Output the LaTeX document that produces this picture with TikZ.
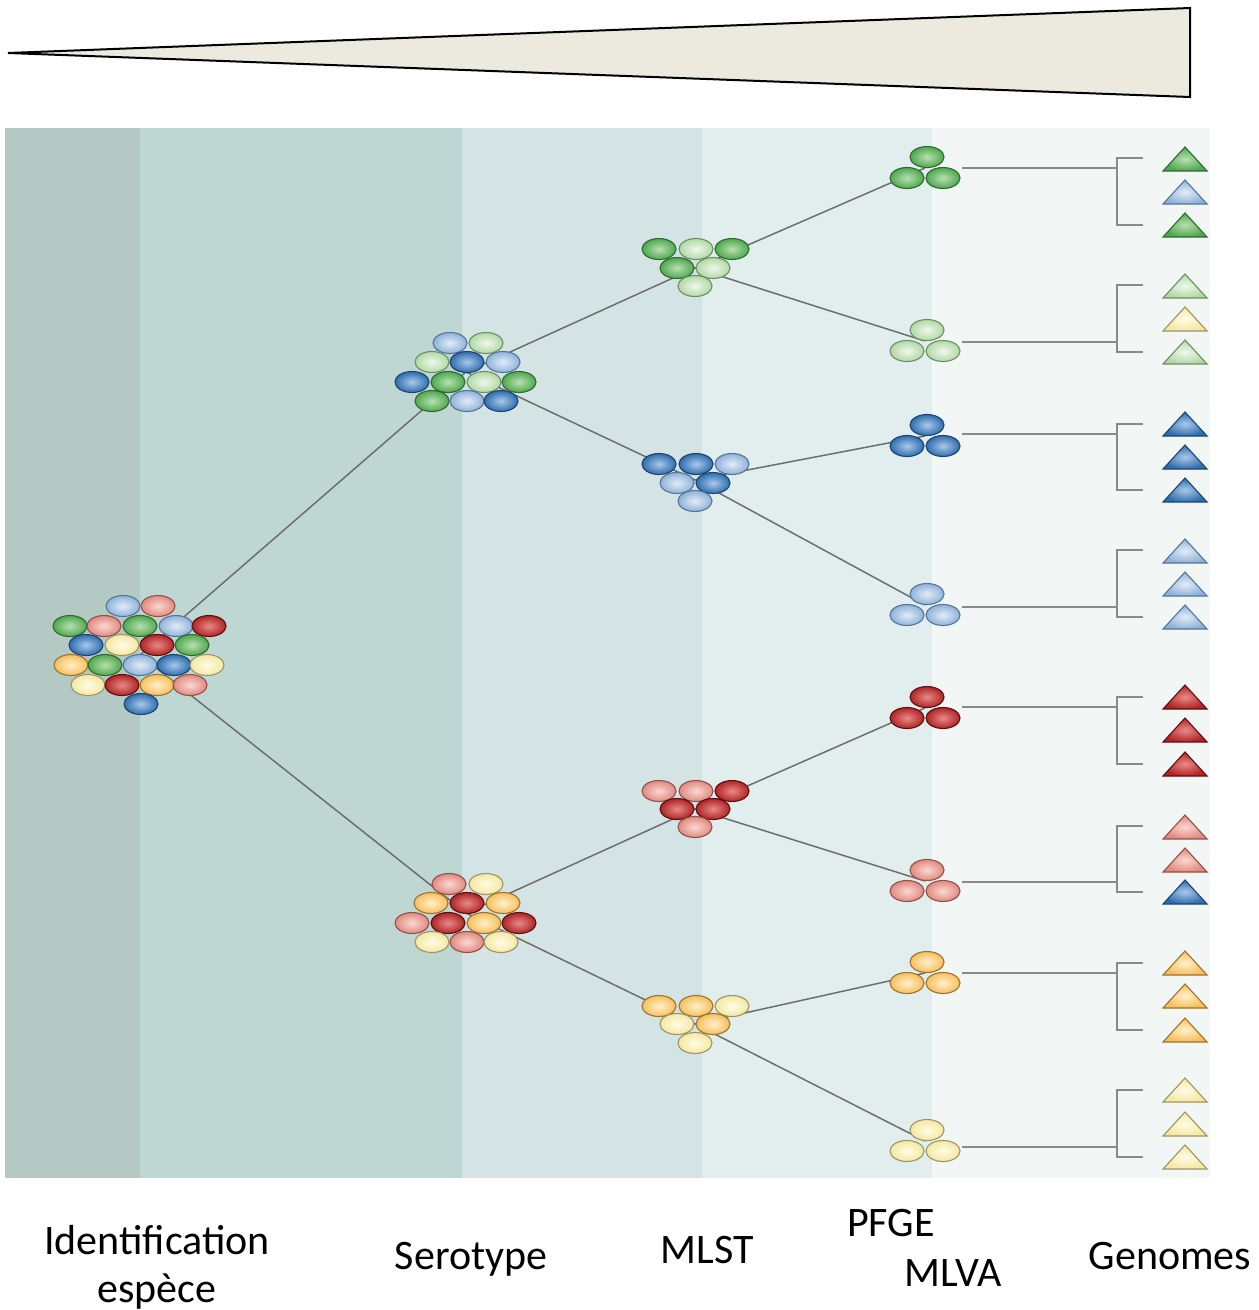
\documentclass[tikz,border=0pt]{standalone}
\usepackage{fontspec}
\setmainfont{Carlito}
\definecolor{bandA}{HTML}{B4C8C4}
\definecolor{bandB}{HTML}{BFD7D3}
\definecolor{bandC}{HTML}{D4E3E3}
\definecolor{bandD}{HTML}{E1EEED}
\definecolor{bandE}{HTML}{F2F6F5}
\definecolor{wedge}{HTML}{ECE9DF}
\definecolor{linkc}{HTML}{6E6E6E}
\definecolor{brk}{HTML}{8A8A8A}
\definecolor{dgO}{HTML}{4FA84F}\definecolor{dgI}{HTML}{B8E0B0}\definecolor{dgS}{HTML}{2E6B2E}
\definecolor{lgO}{HTML}{B0D9A5}\definecolor{lgI}{HTML}{F0F8EA}\definecolor{lgS}{HTML}{6E8F66}
\definecolor{dbO}{HTML}{2F6DAE}\definecolor{dbI}{HTML}{A9C9EA}\definecolor{dbS}{HTML}{1D4570}
\definecolor{lbO}{HTML}{8EB2DA}\definecolor{lbI}{HTML}{E3ECF7}\definecolor{lbS}{HTML}{557599}
\definecolor{rdO}{HTML}{B02426}\definecolor{rdI}{HTML}{E98A86}\definecolor{rdS}{HTML}{5E1010}
\definecolor{saO}{HTML}{E08A80}\definecolor{saI}{HTML}{FAD8D0}\definecolor{saS}{HTML}{94504A}
\definecolor{orO}{HTML}{F7BE5C}\definecolor{orI}{HTML}{FFF1CC}\definecolor{orS}{HTML}{9A7430}
\definecolor{lyO}{HTML}{F4E8A2}\definecolor{lyI}{HTML}{FFFCE6}\definecolor{lyS}{HTML}{9C9466}
\newcommand\bb[3]{\path[#3] (#1,#2) ellipse [x radius=17, y radius=10.5];}
\newcommand\tri[2]{\path[#2] (1185,#1-12) -- (1207,#1+12) -- (1163,#1+12) -- cycle;}
\newcommand\pf[2]{\bb{927}{#1-11}{#2}\bb{907}{#1+10}{#2}\bb{943}{#1+10}{#2}}
\begin{document}
\begin{tikzpicture}[x=1pt,y=-1pt,
  ballbase/.style={shade, line width=1.1pt},
  DG/.style={ballbase, draw=dgS, inner color=dgI, outer color=dgO},
  LG/.style={ballbase, draw=lgS, inner color=lgI, outer color=lgO},
  DB/.style={ballbase, draw=dbS, inner color=dbI, outer color=dbO},
  LB/.style={ballbase, draw=lbS, inner color=lbI, outer color=lbO},
  RD/.style={ballbase, draw=rdS, inner color=rdI, outer color=rdO},
  SA/.style={ballbase, draw=saS, inner color=saI, outer color=saO},
  OR/.style={ballbase, draw=orS, inner color=orI, outer color=orO},
  LY/.style={ballbase, draw=lyS, inner color=lyI, outer color=lyO},
  link/.style={draw=linkc, line width=1.5pt},
  bracket/.style={draw=brk, line width=2pt},
  lab/.style={anchor=base, font=\fontsize{42}{48}\selectfont, inner sep=0pt}]
\useasboundingbox (0,0) rectangle (1259,1310);
\fill[white] (0,0) rectangle (1259,1310);
% wedge
\draw[fill=wedge, line width=2pt, line join=miter] (8,53) -- (1190,8) -- (1190,97) -- cycle;
% bands
\fill[bandA] (5,128) rectangle (140,1178);
\fill[bandB] (140,128) rectangle (462,1178);
\fill[bandC] (462,128) rectangle (702,1178);
\fill[bandD] (702,128) rectangle (932,1178);
\fill[bandE] (932,128) rectangle (1210,1178);
% cluster centres
\coordinate (big) at (140,655);
\coordinate (s1) at (466,372);
\coordinate (s2) at (466,913);
\coordinate (m1) at (695,268);
\coordinate (m2) at (695,480);
\coordinate (m3) at (695,809);
\coordinate (m4) at (695,1024);
\coordinate (p1) at (925,168);
\coordinate (p2) at (925,341);
\coordinate (p3) at (925,436);
\coordinate (p4) at (925,605);
\coordinate (p5) at (925,708);
\coordinate (p6) at (925,881);
\coordinate (p7) at (925,973);
\coordinate (p8) at (925,1141);
% links
\path[link] (big) -- (s1) (big) -- (s2)
  (s1) -- (m1) (s1) -- (m2) (s2) -- (m3) (s2) -- (m4)
  (m1) -- (p1) (m1) -- (p2) (m2) -- (p3) (m2) -- (p4)
  (m3) -- (p5) (m3) -- (p6) (m4) -- (p7) (m4) -- (p8);
% brackets
\foreach \i/\t/\b/\l in {1/158/225/168, 2/285/352/342, 3/424/490/434, 4/550/617/607,
                          5/697/764/707, 6/826/892/882, 7/963/1030/973, 8/1090/1157/1147} {
  \coordinate (e\i) at (962,\l);
  \coordinate (j\i) at (1117,\l);
  \path[bracket] (e\i) -- (j\i);
  \path[bracket] (1143,\t) -- (1117,\t) -- (1117,\b) -- (1143,\b);
}
% big cluster
\bb{123}{606}{LB}\bb{158}{606}{SA}
\bb{70}{626}{DG}\bb{104}{626}{SA}\bb{140}{626}{DG}\bb{176}{626}{LB}\bb{209}{626}{RD}
\bb{86}{645}{DB}\bb{122}{645}{LY}\bb{157}{645}{RD}\bb{192}{645}{DG}
\bb{71}{665}{OR}\bb{105}{665}{DG}\bb{140}{665}{LB}\bb{174}{665}{DB}\bb{207}{665}{LY}
\bb{88}{685}{LY}\bb{122}{685}{RD}\bb{157}{685}{OR}\bb{190}{685}{SA}
\bb{141}{704}{DB}
% serotype top
\bb{450}{343}{LB}\bb{486}{343}{LG}
\bb{432}{362}{LG}\bb{467}{362}{DB}\bb{503}{362}{LB}
\bb{412}{382}{DB}\bb{448}{382}{DG}\bb{484}{382}{LG}\bb{519}{382}{DG}
\bb{432}{401}{DG}\bb{467}{401}{LB}\bb{501}{401}{DB}
% serotype bottom
\bb{449}{884}{SA}\bb{486}{884}{LY}
\bb{431}{903}{OR}\bb{467}{903}{RD}\bb{503}{903}{OR}
\bb{412}{923}{SA}\bb{448}{923}{RD}\bb{484}{923}{OR}\bb{519}{923}{RD}
\bb{432}{942}{LY}\bb{467}{942}{SA}\bb{501}{942}{LY}
% MLST
\bb{659}{249}{DG}\bb{696}{249}{LG}\bb{732}{249}{DG}
\bb{677}{268}{DG}\bb{713}{268}{LG}\bb{695}{286}{LG}
\bb{659}{464}{DB}\bb{696}{464}{DB}\bb{732}{464}{LB}
\bb{677}{483}{LB}\bb{713}{483}{DB}\bb{695}{501}{LB}
\bb{659}{791}{SA}\bb{696}{791}{SA}\bb{732}{791}{RD}
\bb{677}{809}{RD}\bb{713}{809}{RD}\bb{695}{827}{SA}
\bb{659}{1006}{OR}\bb{696}{1006}{OR}\bb{732}{1006}{LY}
\bb{677}{1024}{LY}\bb{713}{1024}{OR}\bb{695}{1043}{LY}
% PFGE
\pf{168}{DG}\pf{341}{LG}\pf{436}{DB}\pf{605}{LB}
\pf{708}{RD}\pf{881}{SA}\pf{973}{OR}\pf{1141}{LY}
% genomes
\tri{159}{DG}\tri{192}{LB}\tri{225}{DG}
\tri{286}{LG}\tri{319}{LY}\tri{352}{LG}
\tri{424}{DB}\tri{457}{DB}\tri{490}{DB}
\tri{551}{LB}\tri{584}{LB}\tri{617}{LB}
\tri{697}{RD}\tri{730}{RD}\tri{764}{RD}
\tri{827}{SA}\tri{860}{SA}\tri{892}{DB}
\tri{963}{OR}\tri{996}{OR}\tri{1030}{OR}
\tri{1090}{LY}\tri{1124}{LY}\tri{1157}{LY}
% labels
\node[lab] (l1) at (157,1254) {Identification};
\node[lab] (l1b) at (157,1302) {espèce};
\node[lab] (l2) at (471,1269) {Serotype};
\node[lab] (l3) at (707,1263) {MLST};
\node[lab] (l4) at (891,1236) {PFGE};
\node[lab] (l5) at (953,1286) {MLVA};
\node[lab] (l6) at (1170,1269) {Genomes};
\end{tikzpicture}
\end{document}
